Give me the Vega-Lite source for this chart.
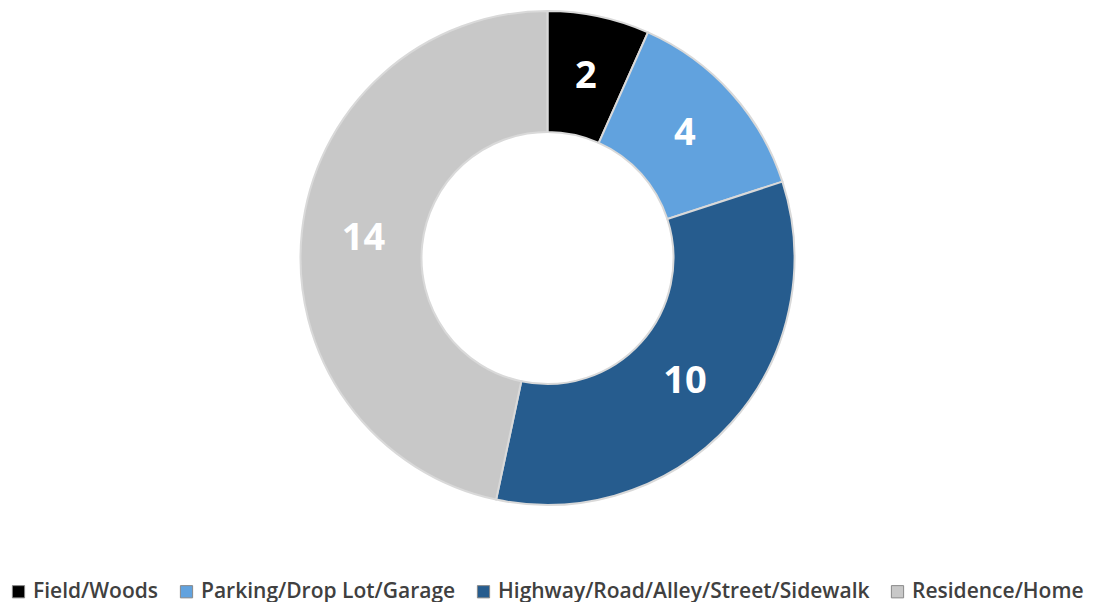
{
  "$schema": "https://vega.github.io/schema/vega-lite/v6.json",
  "width": 1095,
  "height": 516,
  "padding": 0,
  "autosize": {"type": "pad"},
  "background": "white",
  "data": {"values": [
    {"category": "Field/Woods", "value": 2, "ord": 1},
    {"category": "Parking/Drop Lot/Garage", "value": 4, "ord": 2},
    {"category": "Highway/Road/Alley/Street/Sidewalk", "value": 10, "ord": 3},
    {"category": "Residence/Home", "value": 14, "ord": 4}
  ]},
  "encoding": {
    "theta": {"field": "value", "type": "quantitative", "stack": true},
    "order": {"field": "ord", "type": "quantitative"},
    "color": {
      "field": "category", "type": "nominal",
      "sort": ["Field/Woods", "Parking/Drop Lot/Garage", "Highway/Road/Alley/Street/Sidewalk", "Residence/Home"],
      "scale": {
        "domain": ["Field/Woods", "Parking/Drop Lot/Garage", "Highway/Road/Alley/Street/Sidewalk", "Residence/Home"],
        "range": ["#000000", "#61a2de", "#265c8e", "#c8c8c8"]
      },
      "legend": {
        "title": null,
        "orient": "none",
        "legendX": 4,
        "legendY": 581,
        "direction": "horizontal",
        "padding": 0,
        "symbolType": "square",
        "symbolSize": 150,
        "symbolStrokeColor": "#888888",
        "symbolStrokeWidth": 1,
        "labelFont": "Open Sans",
        "labelFontWeight": 600,
        "labelFontSize": 21,
        "labelColor": "#404040",
        "labelLimit": 500,
        "columnPadding": 13,
        "symbolOffset": 4,
        "labelOffset": 4
      }
    }
  },
  "layer": [
    {
      "mark": {"type": "arc", "outerRadius": 247, "innerRadius": 126, "stroke": "#d9d9d9", "strokeWidth": 2}
    },
    {
      "mark": {"type": "text", "radius": 185, "font": "Open Sans", "fontWeight": "bold", "fontSize": 38, "fill": "white"},
      "encoding": {
        "text": {"field": "value", "type": "quantitative"},
        "color": {"value": "white"}
      }
    }
  ]
}
